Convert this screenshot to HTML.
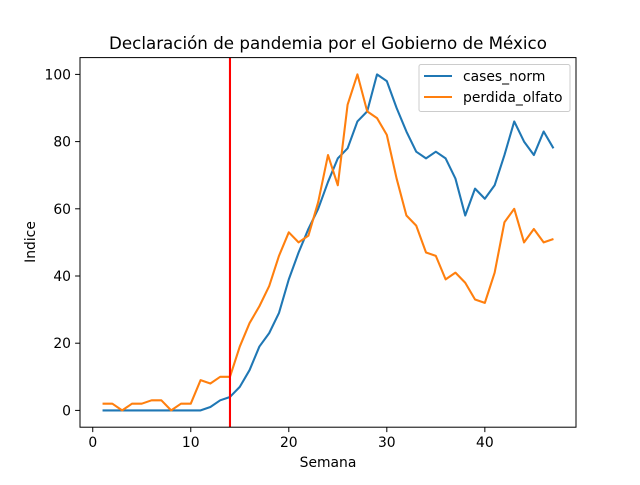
<!DOCTYPE html>
<html><head><meta charset="utf-8"><style>
body{margin:0;background:#fff;}
svg text{font-family:"DejaVu Sans","Liberation Sans",sans-serif;}
</style></head><body>
<svg id="chart" width="640" height="480" xmlns="http://www.w3.org/2000/svg">
<rect width="640" height="480" fill="#fff"/>
<text x="328" y="49" font-size="16.7" text-anchor="middle">Declaración de pandemia por el Gobierno de México</text>
<g id="plot"></g>
<rect x="80" y="57.6" width="496" height="369.6" fill="none" stroke="#000" stroke-width="1"/>
<text x="328" y="467" font-size="13.9" text-anchor="middle">Semana</text>
<text x="35" y="242" font-size="13.9" text-anchor="middle" transform="rotate(-90 35 242)">Indice</text>
<g>
<rect x="419" y="64.5" width="151" height="47" rx="2" fill="#fff" fill-opacity="0.8" stroke="#ccc"/>
<line x1="424" y1="76" x2="452" y2="76" stroke="#1f77b4" stroke-width="2"/>
<text x="463" y="81" font-size="13.9">cases_norm</text>
<line x1="424" y1="97" x2="452" y2="97" stroke="#ff7f0e" stroke-width="2"/>
<text x="463" y="102" font-size="13.9">perdida_olfato</text>
</g>
</svg>
<script>
const weeks=[];for(let i=1;i<=47;i++)weeks.push(i);
const casesNorm=[0,0,0,0,0,0,0,0,0,0,0,1,3,4,7,12,19,23,29,39,47,54,60,68,75,78,86,89,100,98,90,83,77,75,77,75,69,58,66,63,67,76,86,80,76,83,78];
const perdidaOlfato=[2,2,0,2,2,3,3,0,2,2,9,8,10,10,19,26,31,37,46,53,50,52,62,76,67,91,100,89,87,82,69,58,55,47,46,39,41,38,33,32,41,56,60,50,54,50,51];
const xTicks=[0,10,20,30,40];
const yTicks=[0,20,40,60,80,100];
const declWeek=14;
const NS="http://www.w3.org/2000/svg";
const L=80,R=576,T=57.6,B=427.2;
const xmin=-1.3,xmax=49.3,ymin=-5,ymax=105;
const xs=v=>L+(v-xmin)/(xmax-xmin)*(R-L);
const ys=v=>B-(v-ymin)/(ymax-ymin)*(B-T);
const svg=document.getElementById('chart');
const plot=document.getElementById('plot');
function mk(tag,attrs,parent){const e=document.createElementNS(NS,tag);for(const k in attrs)e.setAttribute(k,attrs[k]);parent.appendChild(e);return e;}
xTicks.forEach(t=>{
  const l=mk('line',{x1:xs(t),x2:xs(t),y1:B,y2:B+4.9,stroke:'#000','stroke-width':1},svg);
  
  
  const tx=mk('text',{x:xs(t),y:B+20,'font-size':13.9,'text-anchor':'middle'},svg);
  tx.textContent=t;
  
  
});
yTicks.forEach(t=>{
  const l=mk('line',{x1:L-4.9,x2:L,y1:ys(t),y2:ys(t),stroke:'#000','stroke-width':1},svg);
  
  
  const tx=mk('text',{x:L-9,y:ys(t)+5,'font-size':13.9,'text-anchor':'end'},svg);
  tx.textContent=t;
  
  
});
function series(vals,color,name){
  const p=mk('polyline',{points:vals.map((v,i)=>xs(weeks[i])+','+ys(v)).join(' '),fill:'none',stroke:color,'stroke-width':2.08,'stroke-linejoin':'round'},plot);
  
  
}
series(casesNorm,'#1f77b4','cases-norm-line');
series(perdidaOlfato,'#ff7f0e','perdida-olfato-line');
const vl=mk('line',{x1:xs(declWeek),x2:xs(declWeek),y1:T,y2:B,stroke:'#ff0000','stroke-width':2.08},plot);


</script>
</body></html>
